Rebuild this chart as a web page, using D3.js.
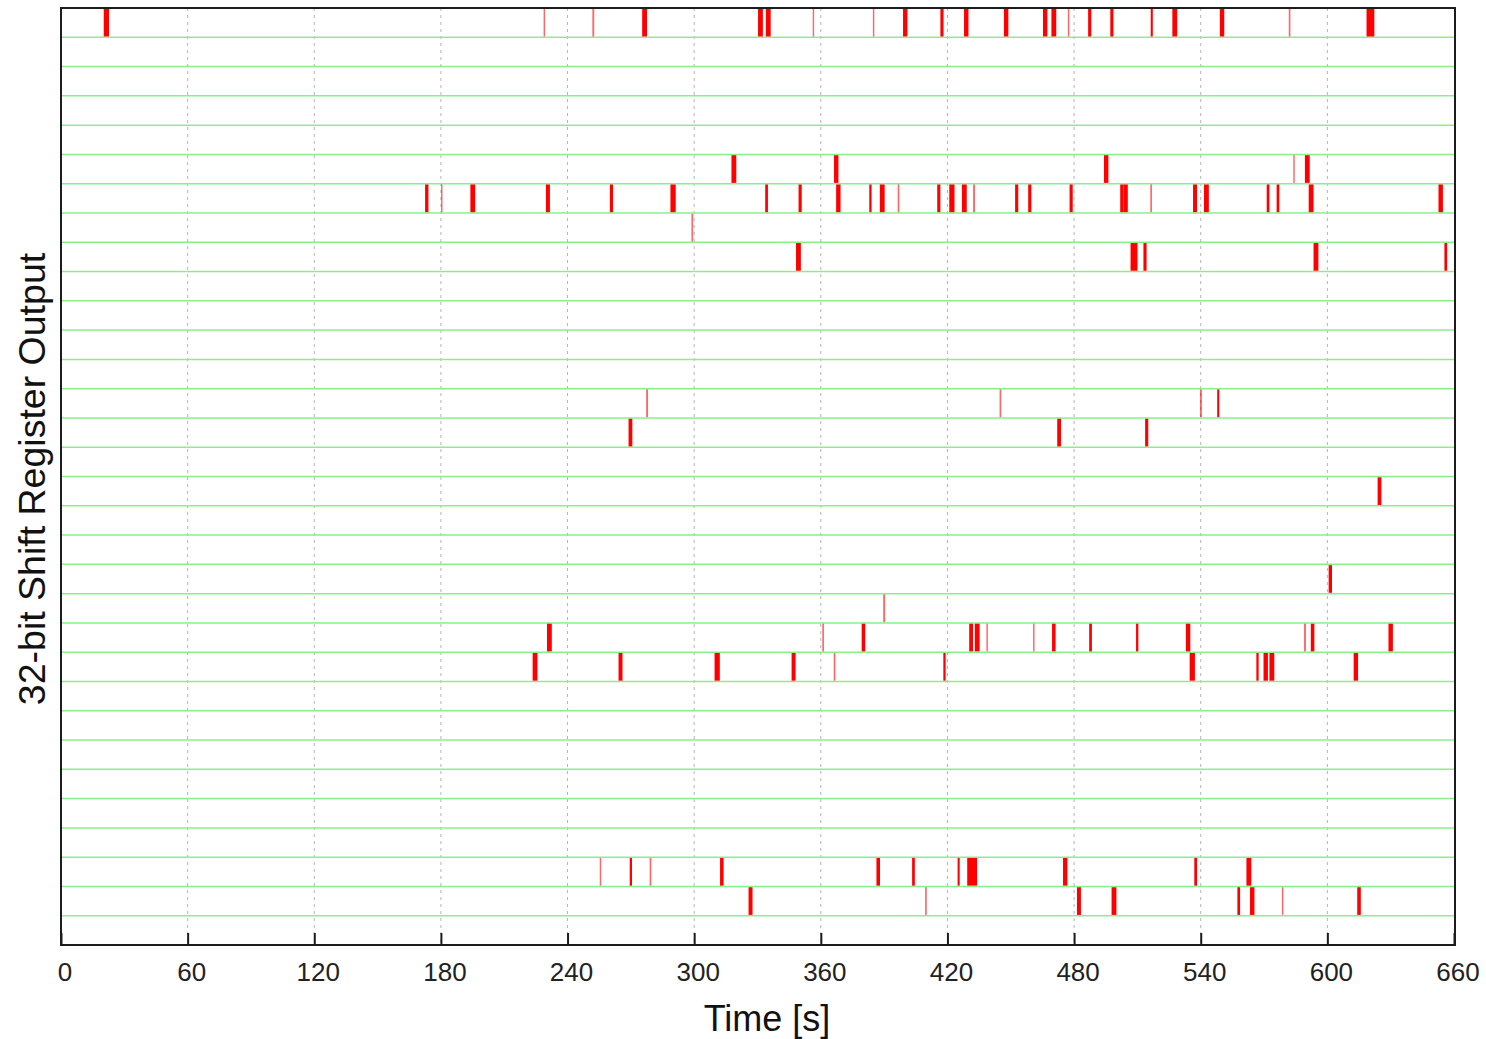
<!DOCTYPE html>
<html>
<head>
<meta charset="utf-8">
<script src="https://cdn.jsdelivr.net/npm/d3@7"></script>
<style>
	body { margin: 0; background: #fff; }
	svg { display: block; font-family: 'Liberation Sans', Arial, sans-serif; }
</style>
</head>
<body>
<svg id="chart" width="1486" height="1039"></svg>
<script>

// x axis
const tickValues = [0, 60, 120, 180, 240, 300, 360, 420, 480, 540, 600, 660]
const bitCount = 32

// [time (s), pulse length (s)] for each register bit, top row = 0
const row0 = [[21.5, 2.2], [229.0, 0.4], [252.2, 0.6], [276.5, 2.0], [331.4, 2.0], [335.1, 2.0],
	[356.5, 0.4], [385.0, 0.4], [400.0, 1.8], [417.4, 1.2], [428.9, 1.8], [447.8, 1.8],
	[466.3, 1.8], [470.4, 2.0], [477.4, 0.4], [487.4, 1.2], [497.9, 1.2], [516.8, 0.7],
	[527.7, 2.0], [550.1, 1.8], [582.1, 0.5], [620.4, 3.4]]
const row5 = [[318.8, 2.0], [367.3, 1.8], [495.2, 1.8], [584.2, 0.4], [590.5, 2.0]]
const row6 = [[173.3, 1.3], [180.4, 0.4], [195.1, 2.0], [230.7, 1.6], [260.8, 1.2], [290.0, 2.2],
	[334.3, 1.0], [350.2, 1.2], [368.3, 1.8], [383.5, 0.8], [389.1, 2.0], [396.8, 0.5],
	[415.9, 1.2], [422.1, 2.2], [428.0, 2.0], [432.6, 0.6], [452.8, 1.2], [459.0, 1.2],
	[478.6, 1.2], [502.6, 1.2], [504.4, 1.8], [516.5, 0.5], [537.3, 1.6], [542.7, 2.0],
	[571.9, 1.0], [576.6, 1.0], [592.3, 2.0], [653.7, 1.8]]
const row7 = [[299.1, 0.5]]
const row8 = [[349.4, 2.0], [508.4, 3.0], [513.6, 1.2], [594.6, 2.0], [656.1, 1.0]]
const row13 = [[277.7, 0.6], [445.1, 0.5], [540.1, 0.6], [548.3, 0.7]]
const row14 = [[269.8, 1.5], [472.9, 1.5], [514.4, 1.2]]
const row16 = [[624.7, 1.5]]
const row19 = [[601.4, 1.3]]
const row20 = [[390.0, 0.6]]
const row21 = [[231.4, 2.0], [361.1, 0.5], [380.2, 1.4], [431.2, 1.5], [434.1, 2.0], [438.8, 0.4],
	[460.9, 0.4], [470.4, 1.4], [487.8, 1.0], [509.9, 0.8], [534.0, 1.8], [589.4, 0.6],
	[593.0, 1.4], [630.0, 1.8]]
const row22 = [[224.6, 2.0], [265.1, 1.6], [310.9, 2.2], [347.1, 1.6], [366.5, 0.5], [418.6, 0.8],
	[536.0, 2.2], [566.9, 0.8], [570.8, 1.8], [573.7, 2.0], [613.5, 1.8]]
const row29 = [[255.6, 0.4], [270.0, 0.8], [279.3, 0.5], [313.1, 1.4], [387.2, 1.4], [403.9, 1.0],
	[425.3, 0.7], [431.7, 4.4], [475.8, 1.8], [537.6, 1.0], [562.8, 2.0]]
const row30 = [[326.7, 1.6], [409.8, 0.5], [482.3, 1.6], [498.9, 2.0], [558.0, 1.0], [564.4, 1.8],
	[578.8, 0.4], [615.0, 1.4]]

const rowEvents = [
	[0, row0], [5, row5], [6, row6], [7, row7], [8, row8], [13, row13], [14, row14],
	[16, row16], [19, row19], [20, row20], [21, row21], [22, row22], [29, row29], [30, row30]
]

const pulses = []
rowEvents.forEach(([row, list]) => {
	list.forEach(([t, dur]) => pulses.push({ row, t, dur }))
})

const plotLeft = 61
const plotRight = 1455
const plotTop = 8
const plotBottom = 945

const xScale = d3.scaleLinear()
	.domain([0, 660])
	.range([plotLeft, plotRight - 1])

const yScale = d3.scaleLinear()
	.domain([0, bitCount])
	.range([plotTop, plotBottom])

const svg = d3.select('#chart')

svg.append('rect')
	.attr('width', 1486)
	.attr('height', 1039)
	.attr('fill', '#fff')

// dotted time grid
svg.append('g')
	.selectAll('line')
	.data(tickValues.slice(1, -1))
	.enter()
	.append('line')
	.attr('x1', d => xScale(d))
	.attr('x2', d => xScale(d))
	.attr('y1', plotTop)
	.attr('y2', plotBottom)
	.style('stroke', '#b4b4b4')
	.style('stroke-width', 1)
	.style('stroke-dasharray', '3,4')

// row separators
svg.append('g')
	.selectAll('line')
	.data(d3.range(1, bitCount))
	.enter()
	.append('line')
	.attr('x1', plotLeft)
	.attr('x2', plotRight)
	.attr('y1', d => yScale(d))
	.attr('y2', d => yScale(d))
	.style('stroke', '#8aef8a')
	.style('stroke-width', 1.5)

// pulses, drawn a touch wider than the raw length like the original plot
svg.append('g')
	.selectAll('rect')
	.data(pulses)
	.enter()
	.append('rect')
	.attr('x', d => xScale(d.t - d.dur / 2) - 0.3)
	.attr('width', d => xScale(d.t + d.dur / 2) - xScale(d.t - d.dur / 2) + 0.6)
	.attr('y', d => yScale(d.row) + 0.8)
	.attr('height', d => yScale(d.row + 1) - yScale(d.row) - 1.6)
	.style('fill', '#ff0000')
	.style('fill-opacity', d => (d.dur < 0.7 ? 0.6 : 1))

// frame
svg.append('rect')
	.attr('x', plotLeft)
	.attr('y', plotTop)
	.attr('width', plotRight - plotLeft)
	.attr('height', plotBottom - plotTop)
	.style('fill', 'none')
	.style('stroke', '#1c1c1c')
	.style('stroke-width', 2)

// inward ticks
const xAxis = d3.axisBottom(xScale)
	.tickValues(tickValues)
	.tickSizeInner(-12)
	.tickSizeOuter(0)
	.tickPadding(18)

const axisG = svg.append('g')
	.attr('transform', `translate(0,${plotBottom})`)
	.call(xAxis)

axisG.select('.domain').remove()
axisG.selectAll('.tick line')
	.style('stroke', '#1c1c1c')
	.style('stroke-width', 2)
axisG.selectAll('.tick text')
	.attr('dx', 3.5)
	.style('font-size', '26px')
	.style('font-family', "'Liberation Sans', Arial, sans-serif")
	.style('fill', '#222')

svg.append('text')
	.attr('x', 767)
	.attr('y', 1031)
	.attr('text-anchor', 'middle')
	.style('font-size', '36px')
	.style('fill', '#111')
	.text('Time [s]')

svg.append('text')
	.attr('transform', 'translate(45,479) rotate(-90)')
	.attr('text-anchor', 'middle')
	.style('font-size', '37.5px')
	.style('fill', '#111')
	.text('32-bit Shift Register Output')

</script>
</body>
</html>
